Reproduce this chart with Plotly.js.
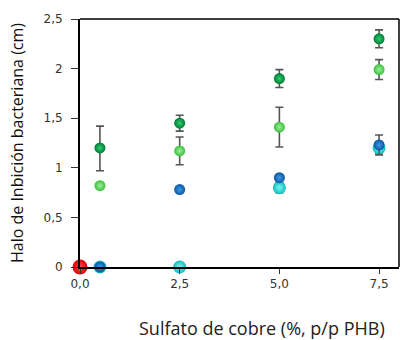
<!DOCTYPE html>
<html>
<head>
<meta charset="utf-8">
<script src="https://cdn.plot.ly/plotly-3.0.1.min.js"></script>
<style>html,body{margin:0;padding:0;background:#fff;}#chart{width:400px;height:340px;}</style>
</head>
<body>
<div id="chart"></div>
<script>
// Data
var conc = [0.5, 2.5, 5.0, 7.5];
var darkGreen = [1.20, 1.45, 1.90, 2.30];
var darkGreenErrPlus = [0.22, 0.08, 0.09, 0.09];
var darkGreenErrMinus = [0.23, 0.08, 0.09, 0.09];
var lightGreen = [0.82, 1.17, 1.41, 1.99];
var lightGreenErr = [0, 0.14, 0.20, 0.10];
var darkBlue = [0, 0.78, 0.90, 1.23];
var darkBlueErr = [0, 0.02, 0.02, 0.10];
var cyan = [0, 0, 0.80, 1.20];
var cyanErr = [0, 0, 0.05, 0.05];
var controlX = [0];
var controlY = [0];
var xTickVals = [0, 2.5, 5, 7.5];
var xTickText = ['0,0', '2,5', '5,0', '7,5'];
var yTickVals = [0, 0.5, 1, 1.5, 2, 2.5];
var yTickText = ['0', '0,5', '1', '1,5', '2', '2,5'];

function errStyle(plus, minus) {
  var e = {type: 'data', array: plus, visible: true, color: '#555555', thickness: 1.6, width: 4};
  if (minus) { e.symmetric = false; e.arrayminus = minus; }
  return e;
}
function mk(color, center, size) {
  return {color: color, size: size, line: {width: 0},
          gradient: {type: 'radial', color: center}};
}

var traces = [
  {x: conc, y: darkGreen, mode: 'markers', type: 'scatter', cliponaxis: false,
   error_y: errStyle(darkGreenErrPlus, darkGreenErrMinus), marker: mk('#007a35', '#2fd070', 11)},
  {x: conc, y: lightGreen, mode: 'markers', type: 'scatter', cliponaxis: false,
   error_y: errStyle(lightGreenErr), marker: mk('#3cbf3c', '#9af09a', 11)},
  {x: conc, y: cyan, mode: 'markers', type: 'scatter', cliponaxis: false,
   error_y: errStyle(cyanErr), marker: mk('#10bcbc', '#7ff5f5', 13)},
  {x: conc, y: darkBlue, mode: 'markers', type: 'scatter', cliponaxis: false,
   error_y: errStyle(darkBlueErr), marker: mk('#0a55a0', '#3f9ae8', 11)},
  {x: controlX, y: controlY, mode: 'markers', type: 'scatter', cliponaxis: false,
   marker: mk('#d80000', '#ff5050', 15)}
];

var layout = {
  width: 400, height: 340,
  margin: {l: 80, r: 1, t: 19, b: 73},
  paper_bgcolor: '#ffffff', plot_bgcolor: '#ffffff',
  showlegend: false,
  font: {family: 'DejaVu Sans', size: 12, color: '#333333'},
  xaxis: {
    range: [0, 8.0], tickvals: xTickVals, ticktext: xTickText,
    showgrid: false, zeroline: false, showline: true, linecolor: '#000', linewidth: 2,
    ticks: 'outside', ticklen: 5, tickcolor: '#333', tickwidth: 1,
    tickfont: {family: 'DejaVu Sans', size: 12, color: '#333'}
  },
  yaxis: {
    range: [0, 2.5], tickvals: yTickVals, ticktext: yTickText,
    showgrid: false, zeroline: false, showline: true, linecolor: '#000', linewidth: 2,
    ticks: 'outside', ticklen: 7, tickcolor: '#333', tickwidth: 1, ticklabelstandoff: 6,
    tickfont: {family: 'DejaVu Sans', size: 12, color: '#333'},
    title: {text: 'Halo de Inbición bacteriana (cm)', font: {family: 'Open Sans', size: 16, color: '#111'}, standoff: 16}
  },
  shapes: [
    {type: 'line', xref: 'paper', yref: 'paper', x0: 0, x1: 1, y0: 1, y1: 1, line: {color: '#000', width: 1.5}},
    {type: 'line', xref: 'paper', yref: 'paper', x0: 1, x1: 1, y0: 0, y1: 1, line: {color: '#000', width: 1.5}}
  ],
  annotations: [
    {text: 'Sulfato de cobre (%, p/p PHB)', xref: 'paper', yref: 'paper', x: 0.57, y: 0,
     yshift: -61, xanchor: 'center', yanchor: 'middle', showarrow: false,
     font: {family: 'Open Sans', size: 18, color: '#222'}}
  ]
};

Plotly.newPlot('chart', traces, layout, {displayModeBar: false, staticPlot: true});
</script>
</body>
</html>
